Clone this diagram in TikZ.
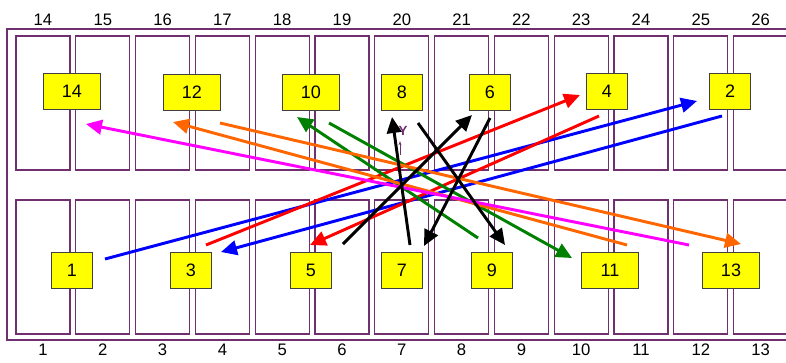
\documentclass[tikz,border=0pt]{standalone}
\usepackage{fontspec}
\setmainfont{Liberation Sans}
\usetikzlibrary{arrows.meta,calc}

\definecolor{baycol}{RGB}{112,48,112}
\definecolor{tagfill}{RGB}{255,255,0}
\definecolor{arrgreen}{RGB}{0,128,0}
\definecolor{arrorange}{RGB}{255,102,0}
\definecolor{arrpink}{RGB}{255,0,255}

\begin{document}
\begin{tikzpicture}[
  x=0.75pt, y=-0.75pt,
  bay/.style={draw=baycol,line width=1pt},
  tag/.style={draw=black!75,fill=tagfill,line width=0.6pt,font=\fontsize{13.5}{14}\selectfont,
    inner sep=0pt,minimum height=27pt,minimum width=31pt},
  wide/.style={minimum width=43pt},
  num/.style={font=\fontsize{12.5}{13}\selectfont,inner sep=0pt},
  arr/.style={-{Triangle[length=12pt,width=11pt]},line width=2.2pt},
]
  \useasboundingbox (0,0) rectangle (786,362);
  \clip (0,0) rectangle (786,362);

  % frame and bays
  \draw[baycol,line width=1.5pt] (7,29) rectangle (810,340);
  \foreach \i in {0,...,12} {
    \pgfmathsetmacro{\xl}{16+59.8*\i}
    \pgfmathtruncatemacro{\t}{14+\i}
    \pgfmathtruncatemacro{\b}{1+\i}
    \draw[bay] (\xl,36) rectangle ++(54,134);
    \draw[bay] (\xl,200) rectangle ++(54,134);
    \node[num] (top\t) at (\xl+27,20) {\t};
    \node[num] (bot\b) at (\xl+27,350) {\b};
  }

  % tags
  \node[tag,wide] (b14) at (72,91)  {14};
  \node[tag,wide] (b12) at (192,92) {12};
  \node[tag,wide] (b10) at (311,92) {10};
  \node[tag]      (b8)  at (402,92) {8};
  \node[tag]      (b6)  at (490,92) {6};
  \node[tag]      (b4)  at (607,91) {4};
  \node[tag]      (b2)  at (730,91) {2};
  \node[tag]      (b1)  at (72,270)  {1};
  \node[tag]      (b3)  at (191,270) {3};
  \node[tag]      (b5)  at (311,270) {5};
  \node[tag]      (b7)  at (402,270) {7};
  \node[tag]      (b9)  at (492,270) {9};
  \node[tag,wide] (b11) at (610,270) {11};
  \node[tag,wide] (b13) at (731,270) {13};

  % moves
  \draw[arr,blue]      ([shift={(33,-11)}]b1.center)  -- ([shift={(-33,10)}]b2.center);
  \draw[arr,blue]      ([shift={(-8,25)}]b2.center)   -- ([shift={(30,-18)}]b3.center);
  \draw[arr,red]       ([shift={(15,-25)}]b3.center)  -- ([shift={(-27,4)}]b4.center);
  \draw[arr,red]       ([shift={(-8,25)}]b4.center)   -- ([shift={(-1,-25)}]b5.center);
  \draw[arr,arrgreen]  ([shift={(-14,-32)}]b9.center) -- ([shift={(-14,25)}]b10.center);
  \draw[arr,arrgreen]  ([shift={(18,31)}]b10.center)  -- ([shift={(-38,-12)}]b11.center);
  \draw[arr,arrorange] ([shift={(17,-25)}]b11.center) -- ([shift={(-19,30)}]b12.center);
  \draw[arr,arrorange] ([shift={(28,31)}]b12.center)  -- ([shift={(10,-26)}]b13.center);
  \draw[arr,arrpink]   ([shift={(-42,-25)}]b13.center) -- ([shift={(14,33)}]b14.center);
  \draw[arr,black]     ([shift={(32,-26)}]b5.center)  -- ([shift={(-18,23)}]b6.center);
  \draw[arr,black]     ([shift={(0,26)}]b6.center)    -- ([shift={(22,-24)}]b7.center);
  \draw[arr,black]     ([shift={(8,-25)}]b7.center)   -- ([shift={(-10,25)}]b8.center);
  \draw[arr,black]     ([shift={(16,31)}]b8.center)   -- ([shift={(13,-25)}]b9.center);

  % small mark
  \node[text=baycol,font=\bfseries\fontsize{10}{10}\selectfont,inner sep=0pt] (ymark) at (403,131) {Y};
  \coordinate (ytail) at (400,155);
  \draw[baycol,line width=0.5pt,-{Stealth[length=3pt]},shorten >=4pt] (ytail) -- (ytail |- ymark.south);
\end{tikzpicture}
\end{document}
